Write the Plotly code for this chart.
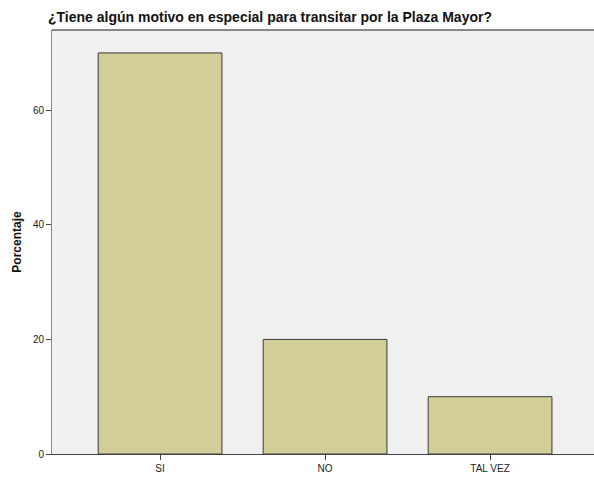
import plotly.graph_objects as go

categories = ["SI", "NO", "TAL VEZ"]
percentages = [70, 20, 10]
y_ticks = [0, 20, 40, 60]

W, H = 594, 477

fig = go.Figure()
fig.add_trace(go.Bar(
    x=categories, y=percentages, width=0.75,
    marker=dict(color="#d3ce98", line=dict(color="#3a3a3a", width=1)),
))

fig.update_layout(
    width=W, height=H,
    margin=dict(l=52, r=0, t=30, b=23, autoexpand=False),
    paper_bgcolor="white", plot_bgcolor="#f0f0f0",
    showlegend=False,
    font=dict(family="Liberation Sans, Arial, sans-serif", color="#222", size=10),
    title=dict(text="<b>¿Tiene algún motivo en especial para transitar por la Plaza Mayor?</b>",
               x=48/W, xanchor="left", y=1-17/H, yanchor="middle",
               font=dict(size=14, color="#111")),
)
fig.update_xaxes(range=[-0.655, 2.63], showline=True, linecolor="#444", linewidth=1,
                 ticks="outside", ticklen=5, tickcolor="#444", showgrid=False,
                 automargin=False, tickfont=dict(size=10, color="#222"))
fig.update_yaxes(range=[0, 74], tickvals=y_ticks, showline=True, linecolor="#888", linewidth=1,
                 ticks="outside", ticklen=5, tickcolor="#444", showgrid=False, zeroline=False,
                 automargin=False, tickfont=dict(size=10, color="#222"),
                 title=dict(text="<b>Porcentaje</b>", font=dict(size=12, color="#111"), standoff=8))
fig.add_shape(type="line", xref="paper", yref="paper", x0=0, x1=1, y0=1, y1=1,
              line=dict(color="#888", width=2))

fig.write_html("out.html", config={"displayModeBar": False},
               post_script="document.body.style.margin='0';document.body.style.overflow='hidden';")
